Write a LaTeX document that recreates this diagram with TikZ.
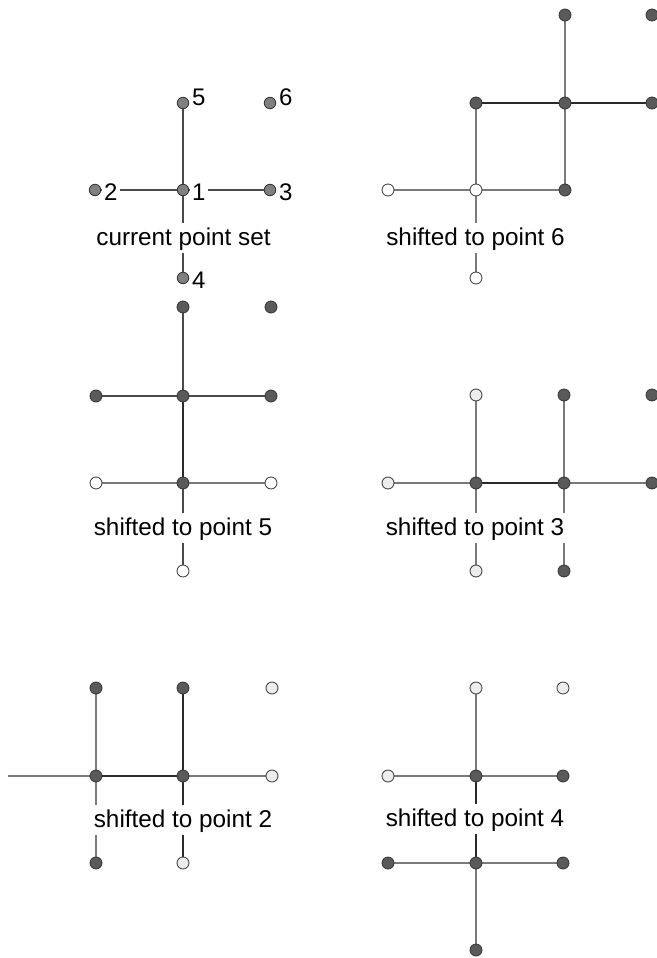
\documentclass[tikz,border=0pt]{standalone}
\usepackage{fontspec}
\setmainfont{Liberation Sans}
\pgfdeclarelayer{bg}\pgfdeclarelayer{mid}
\pgfsetlayers{bg,mid,main}
\definecolor{bord}{HTML}{333333}
\definecolor{midg}{HTML}{808080}
\definecolor{dkfill}{HTML}{5A5A5A}
\definecolor{ltfill}{HTML}{EDEDED}
\definecolor{lngray}{HTML}{7A7A7A}
\definecolor{lndark}{HTML}{2A2A2A}
\definecolor{lnmid}{HTML}{4A4A4A}
\tikzset{
 dot/.style={circle,inner sep=0pt,minimum size=12pt,line width=0.8pt,draw=bord},
 pt/.style={dot,fill=midg,minimum size=11.5pt},
 dk/.style={dot,fill=dkfill},
 wt/.style={dot,fill=white},
 lt/.style={dot,fill=ltfill},
 eg/.style={draw=lngray,line width=1.2pt},
 ed/.style={draw=lndark,line width=1.3pt},
 em/.style={draw=lnmid,line width=1.1pt},
 lab/.style={font=\fontsize{24.3}{28}\selectfont,fill=white,inner xsep=3pt,inner ysep=3pt,text height=19pt,text depth=4.5pt,anchor=base},
 num/.style={font=\fontsize{24}{28}\selectfont,fill=white,inner xsep=2pt,inner ysep=1pt,anchor=base west}
}
\begin{document}
\begin{tikzpicture}[x=1pt,y=-1pt]
\useasboundingbox (0,0) rectangle (656,958);
% ---------- panel 1: current point set
\node[pt] (a1) at (183,190) {};
\node[pt] (a2) at (95,190) {};
\node[pt] (a3) at (270,190) {};
\node[pt] (a4) at (183,278) {};
\node[pt] (a5) at (183,103) {};
\node[pt] (a6) at (270,103) {};
\begin{pgfonlayer}{mid}
\node[num] (n1) at (190,200) {1};
\node[num] (n2) at (102,200) {2};
\node[num] (n3) at (277,200) {3};
\node[num] (n4) at (190,288) {4};
\node[num] (n5) at (190,105) {5};
\node[num] (n6) at (277,105) {6};
\node[lab] (l1) at (183.5,245) {current point set};
\end{pgfonlayer}
\begin{pgfonlayer}{bg}
\draw[em] (a5) -- (a1);
\draw[em] (a1) -- (a4);
\draw[em] (a2) -- (a1);
\draw[em] (a1) -- (a3);
\end{pgfonlayer}
% ---------- panel 2: shifted to point 6
\node[wt] (b1) at (476,190) {};
\node[wt] (b2) at (388,190) {};
\node[dk] (b3) at (565,190) {};
\node[wt] (b4) at (476,278) {};
\node[dk] (b5) at (476,103) {};
\node[dk] (b6) at (565,103) {};
\node[dk] (b7) at (652,103) {};
\node[dk] (b8) at (565,15) {};
\node[dk] (b9) at (652,15) {};
\begin{pgfonlayer}{mid}
\node[lab] (l2) at (475.5,245) {shifted to point 6};
\end{pgfonlayer}
\begin{pgfonlayer}{bg}
\draw[eg] (b8) -- (b6);
\draw[eg] (b6) -- (b3);
\draw[ed] (b5) -- (b6);
\draw[ed] (b6) -- (b7);
\draw[eg] (b5) -- (b1);
\draw[eg] (b1) -- (b4);
\draw[eg] (b2) -- (b1);
\draw[eg] (b1) -- (b3);
\end{pgfonlayer}
% ---------- panel 3: shifted to point 5
\node[dk] (c1) at (183,307) {};
\node[dk] (c2) at (271,307) {};
\node[dk] (c3) at (96,396) {};
\node[dk] (c4) at (183,396) {};
\node[dk] (c5) at (271,396) {};
\node[wt] (c6) at (96,483) {};
\node[dk] (c7) at (183,483) {};
\node[wt] (c8) at (271,483) {};
\node[wt] (c9) at (183,571) {};
\begin{pgfonlayer}{mid}
\node[lab] (l3) at (183,535) {shifted to point 5};
\end{pgfonlayer}
\begin{pgfonlayer}{bg}
\draw[em] (c1) -- (c4);
\draw[ed] (c4) -- (c7);
\draw[em] (c7) -- (c9);
\draw[em] (c3) -- (c4);
\draw[em] (c4) -- (c5);
\draw[eg] (c6) -- (c7);
\draw[eg] (c7) -- (c8);
\end{pgfonlayer}
% ---------- panel 4: shifted to point 3
\node[lt] (d1) at (476,395) {};
\node[dk] (d2) at (564,395) {};
\node[dk] (d3) at (652,395) {};
\node[lt] (d4) at (388,483) {};
\node[dk] (d5) at (476,483) {};
\node[dk] (d6) at (564,483) {};
\node[dk] (d7) at (652,483) {};
\node[lt] (d8) at (476,571) {};
\node[dk] (d9) at (564,571) {};
\begin{pgfonlayer}{mid}
\node[lab] (l4) at (475,535) {shifted to point 3};
\end{pgfonlayer}
\begin{pgfonlayer}{bg}
\draw[eg] (d1) -- (d5);
\draw[eg] (d5) -- (d8);
\draw[eg] (d2) -- (d6);
\draw[eg] (d6) -- (d9);
\draw[eg] (d4) -- (d5);
\draw[ed] (d5) -- (d6);
\draw[eg] (d6) -- (d7);
\end{pgfonlayer}
% ---------- panel 5: shifted to point 2
\coordinate (eL) at (8,776);
\node[dk] (e1) at (96,688) {};
\node[dk] (e2) at (183,688) {};
\node[lt] (e3) at (272,688) {};
\node[dk] (e4) at (96,776) {};
\node[dk] (e5) at (183,776) {};
\node[lt] (e6) at (272,776) {};
\node[dk] (e7) at (96,863) {};
\node[lt] (e8) at (183,863) {};
\begin{pgfonlayer}{mid}
\node[lab] (l5) at (183,827) {shifted to point 2};
\end{pgfonlayer}
\begin{pgfonlayer}{bg}
\draw[eg] (eL) -- (e4);
\draw[ed,line width=1.6pt] (e4) -- (e5);
\draw[eg] (e5) -- (e6);
\draw[eg] (e1) -- (e4);
\draw[eg] (e4) -- (e7);
\draw[ed] (e2) -- (e5);
\draw[ed] (e5) -- (e8);
\end{pgfonlayer}
% ---------- panel 6: shifted to point 4
\node[lt] (f1) at (476,688) {};
\node[lt] (f2) at (563,688) {};
\node[lt] (f3) at (388,776) {};
\node[dk] (f4) at (476,776) {};
\node[dk] (f5) at (563,776) {};
\node[dk] (f6) at (388,863) {};
\node[dk] (f7) at (476,863) {};
\node[dk] (f8) at (563,863) {};
\node[dk] (f9) at (476,950) {};
\begin{pgfonlayer}{mid}
\node[lab] (l6) at (475,826) {shifted to point 4};
\end{pgfonlayer}
\begin{pgfonlayer}{bg}
\draw[eg] (f1) -- (f4);
\draw[ed] (f4) -- (f7);
\draw[eg] (f7) -- (f9);
\draw[eg] (f3) -- (f4);
\draw[eg] (f4) -- (f5);
\draw[eg] (f6) -- (f7);
\draw[eg] (f7) -- (f8);
\end{pgfonlayer}
\end{tikzpicture}
\end{document}
